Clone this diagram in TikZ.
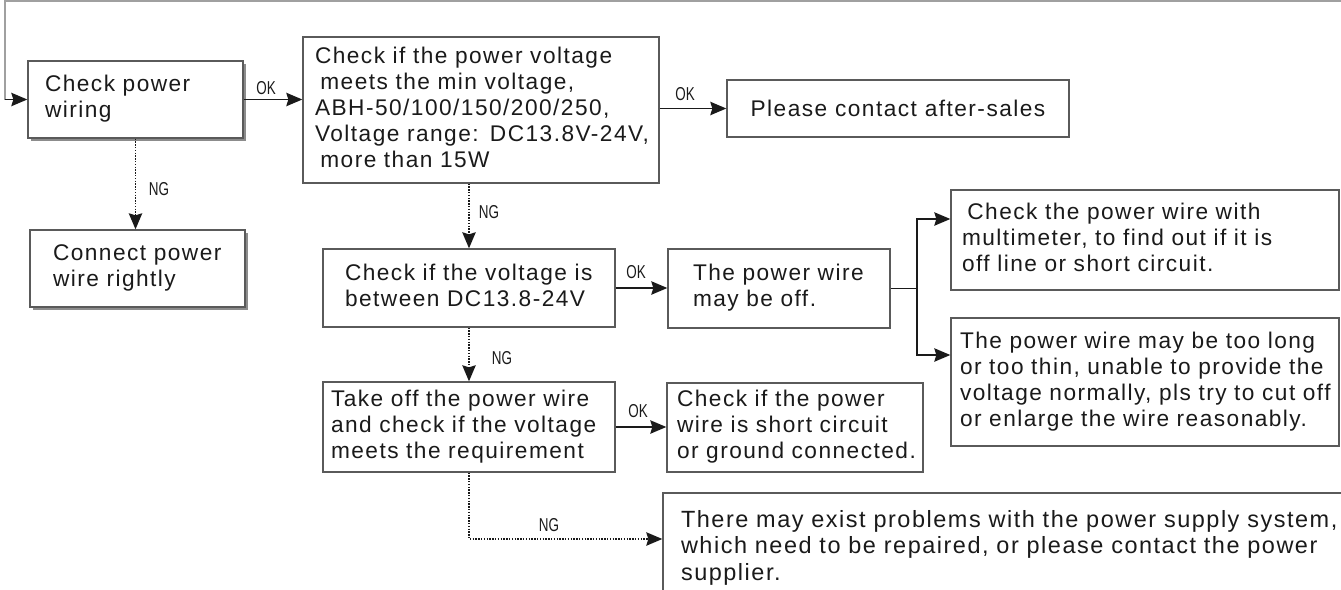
\documentclass[tikz,border=0pt]{standalone}
\usepackage{fontspec}
\usepackage{graphicx}
\setmainfont{Liberation Sans}[LetterSpace=6.5]
\newfontfamily\labfont{Liberation Sans}
\usetikzlibrary{arrows.meta,shadows}
\definecolor{boxgray}{HTML}{5A5A5A}
\definecolor{ink}{HTML}{1A1A1A}
\definecolor{shade}{HTML}{8C8C8C}
\definecolor{topgray}{HTML}{A0A0A0}
\newcommand{\tb}[1]{\begin{tabular}{@{}l@{}}#1\end{tabular}}
\begin{document}
\begin{tikzpicture}[x=0.75pt,y=-0.75pt,
 box/.style={draw=boxgray, line width=1pt, fill=white, text=ink, inner ysep=0pt, align=left, font=\fontsize{17}{19.5}\selectfont},
 shad/.style={drop shadow={shadow xshift=2.4pt,shadow yshift=-2.4pt,fill=shade,opacity=1}},
 conn/.style={draw=ink, line width=1.4pt},
 arr/.style={conn, -{Stealth[length=12pt,width=10pt,inset=1.5pt]}},
 dotarr/.style={arr, dash pattern=on 1pt off 1.1pt},
 topline/.style={draw=topgray, line width=1.1pt},
 lab/.style={inner sep=0pt, text=ink, font=\labfont\fontsize{14}{14}\selectfont}]
\useasboundingbox (0,0) rectangle (1341,589);
\clip (0,0) rectangle (1341,589);

% boxes
\node[box,shad, inner xsep=12.75pt, text width=135.75pt, minimum height=57.75pt] (b1) at (135.5,99.5) {\tb{Check power\\wiring}};
\node[box, inner xsep=9pt, text width=249pt, minimum height=109.5pt] (b2) at (481,110) {\tb{Check if the power voltage\\\hspace*{4pt}meets the min voltage,\\ABH-50/100/150/200/250,\\Voltage range: DC13.8V-24V,\\\hspace*{4pt}more than 15W}};
\node[box, align=center, inner xsep=0pt, minimum width=256.5pt, minimum height=42.75pt] (b3) at (898,108.5) {Please contact after-sales};
\node[box,shad, inner xsep=17.25pt, text width=126.75pt, minimum height=57.75pt] (b4) at (137.5,268.5) {\tb{Connect power\\wire rightly}};
\node[box, inner xsep=16.5pt, text width=186pt, minimum height=58.5pt] (b5) at (469,288) {\tb{Check if the voltage is\\between DC13.8-24V}};
\node[box, inner xsep=18.75pt, text width=129pt, minimum height=59.25pt] (b6) at (779,288.5) {\tb{The power wire\\may be off.}};
\node[box, inner xsep=8.25pt, text width=274.5pt, minimum height=75pt] (b7) at (1145,240) {\tb{\hspace*{4pt}Check the power wire with\\multimeter, to find out if it is\\off line or short circuit.}};
\node[box, inner xsep=6.75pt, text width=277.5pt, minimum height=96pt] (b8) at (1145,382) {\tb{The power wire may be too long\\or too thin, unable to provide the\\voltage normally, pls try to cut off\\or enlarge the wire reasonably.}};
\node[box, inner xsep=6pt, text width=207pt, minimum height=67.5pt] (b9) at (469,427) {\tb{Take off the power wire\\and check if the voltage\\meets the requirement}};
\node[box, inner xsep=7.5pt, text width=177pt, minimum height=66.75pt] (b10) at (795,427.5) {\tb{Check if the power\\wire is short circuit\\or ground connected.}};
\node[box, font=\fontsize{17.6}{19.8}\selectfont, inner xsep=13.5pt, text width=510.75pt, minimum height=83.25pt] (b11) at (1021.5,548.5) {\tb{There may exist problems with the power supply system,\\which need to be repaired, or please contact the power\\supplier.}};

% loop back line
\coordinate (tr) at (1345,1);
\coordinate (tl) at (5,1);
\coordinate (tb) at (5,99.5);
\draw[topline] (tr) -- (tl) -- (tb);
\draw[arr] (tb) -- (b1.west);

% connectors
\draw[arr] (b1.east) -- (b1.east -| b2.west);
\draw[arr] (b2.east |- b3.west) -- (b3.west);
\draw[dotarr] (b1.south) -- (b1.south |- b4.north);
\draw[dotarr] (b5.north |- b2.south) -- (b5.north);
\draw[arr] (b5.east) -- (b5.east -| b6.west);
\coordinate (j) at (917,288.5);
\draw[conn] (b6.east) -- (j);
\draw[arr] (j) |- (b7.west |- 0,219);
\draw[arr] (j) |- (b8.west |- 0,355);
\draw[dotarr] (b5.south) -- (b9.north);
\draw[arr] (b9.east) -- (b9.east -| b10.west);
\coordinate (k) at (469,539);
\draw[dotarr] (b9.south) -- (k) -- (k -| b11.west);

% labels
\node[lab] (ok1) at (266,88) {\scalebox{0.72}[1]{OK}};
\node[lab] (ok2) at (685,94) {\scalebox{0.72}[1]{OK}};
\node[lab] (ok3) at (636,272) {\scalebox{0.72}[1]{OK}};
\node[lab] (ok4) at (638,411) {\scalebox{0.72}[1]{OK}};
\node[lab] (ng1) at (159,189) {\scalebox{0.72}[1]{NG}};
\node[lab] (ng2) at (489,212) {\scalebox{0.72}[1]{NG}};
\node[lab] (ng3) at (502,358) {\scalebox{0.72}[1]{NG}};
\node[lab] (ng4) at (549,525) {\scalebox{0.72}[1]{NG}};
\end{tikzpicture}
\end{document}
